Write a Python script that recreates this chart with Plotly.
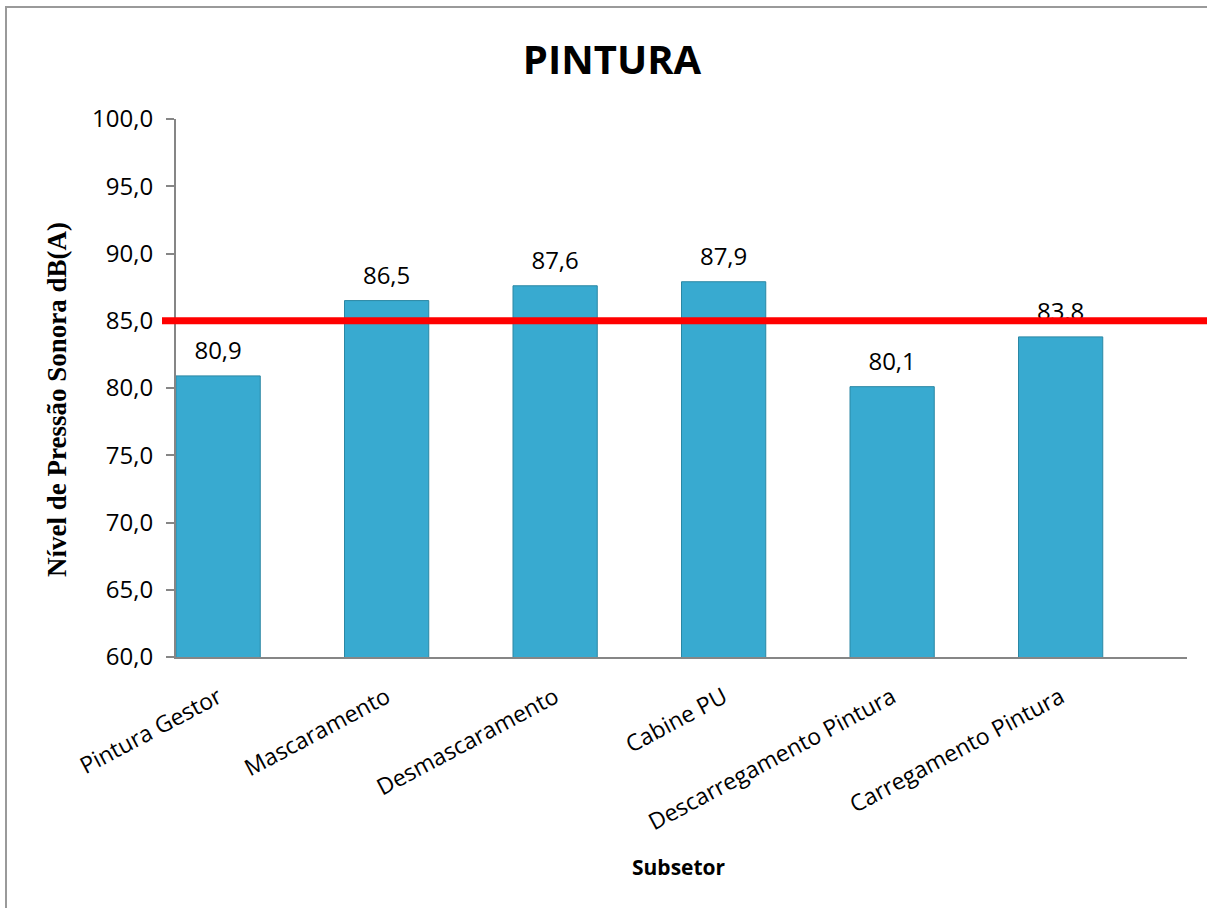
import plotly.graph_objects as go

# Sound pressure level per sub-sector of the painting area
subsetores = [
    "Pintura Gestor",
    "Mascaramento",
    "Desmascaramento",
    "Cabine PU",
    "Descarregamento Pintura",
    "Carregamento Pintura",
]
nivel_db = [80.9, 86.5, 87.6, 87.9, 80.1, 83.8]
limite_db = 85.0
y_ticks = [60, 65, 70, 75, 80, 85, 90, 95, 100]

W, H = 1207, 908
L, R, T, B = 176, 20, 119, 251
pw, ph = W - L - R, H - T - B


def px_x(px):
    return (px - L) / pw


def px_y(py):
    return (H - B - py) / ph


def fmt(v):
    return f"{v:.1f}".replace(".", ",")


fig = go.Figure()
fig.add_trace(go.Bar(
    x=subsetores,
    y=nivel_db,
    width=0.5,
    marker=dict(color="#38aad0", line=dict(color="#2a87a4", width=1)),
    hoverinfo="skip",
))

# Value labels above each bar (invisible markers set the gap to the bar top)
fig.add_trace(go.Scatter(
    x=subsetores,
    y=nivel_db,
    mode="markers+text",
    marker=dict(size=16, opacity=0),
    text=[fmt(v) for v in nivel_db],
    textposition="top center",
    textfont=dict(family="Open Sans", size=24, color="#000000"),
    cliponaxis=False,
    hoverinfo="skip",
))

# Limit of tolerance (85 dB)
fig.add_shape(
    type="line", xref="paper", yref="y",
    x0=px_x(162), x1=px_x(1210), y0=limite_db, y1=limite_db,
    line=dict(color="#ff0000", width=7), layer="above",
)

# Chart area frame
fig.add_shape(
    type="rect", xref="paper", yref="paper",
    x0=px_x(6), x1=px_x(1215), y0=px_y(7), y1=px_y(915),
    line=dict(color="#9a9a9a", width=2), layer="below",
)

fig.add_annotation(
    text="<b>Nível de Pressão Sonora dB(A)</b>",
    xref="paper", yref="paper", x=px_x(57), y=px_y(400),
    textangle=-90, showarrow=False, xanchor="center", yanchor="middle",
    font=dict(family="Liberation Serif", size=27, color="#000000"),
)
fig.add_annotation(
    text="<b>Subsetor</b>",
    xref="paper", yref="paper", x=px_x(679), y=px_y(867),
    showarrow=False, xanchor="center", yanchor="middle",
    font=dict(family="Open Sans", size=21, color="#000000"),
)

fig.update_layout(
    width=W, height=H,
    margin=dict(l=L, r=R, t=T, b=B),
    paper_bgcolor="#ffffff",
    plot_bgcolor="#ffffff",
    showlegend=False,
    bargap=0.5,
    title=dict(
        text="<b>PINTURA</b>", x=612 / W, xanchor="center",
        y=1 - 60 / H, yanchor="middle",
        font=dict(family="Open Sans", size=40, color="#000000"),
    ),
    xaxis=dict(
        type="category",
        range=[-0.25, 5.75],
        showline=True, linecolor="#868686", linewidth=2,
        ticks="outside", ticklen=16, tickcolor="rgba(0,0,0,0)", tickangle=-28,
        tickfont=dict(family="Open Sans", size=23, color="#000000"),
        showgrid=False, zeroline=False, fixedrange=True,
    ),
    yaxis=dict(
        range=[60, 100],
        tickvals=y_ticks,
        ticktext=[fmt(v) for v in y_ticks],
        showline=True, linecolor="#868686", linewidth=2,
        ticks="outside", ticklen=8, tickcolor="#868686", tickwidth=2,
        ticklabelstandoff=8,
        tickfont=dict(family="Open Sans", size=24, color="#000000"),
        showgrid=False, zeroline=False, fixedrange=True,
    ),
)

fig.write_html("out.html")
